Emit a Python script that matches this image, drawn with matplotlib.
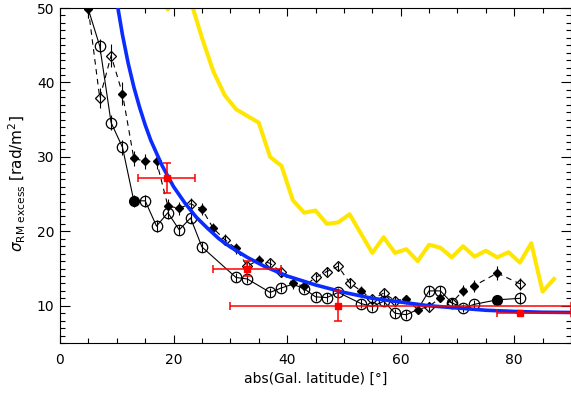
import matplotlib
matplotlib.use("Agg")
import matplotlib.pyplot as plt
from matplotlib.ticker import MultipleLocator

# circles, solid line (marker: 0 open, 1 filled, 2 hidden under a diamond)
lat_c = [5, 7, 9, 11, 13, 15, 17, 19, 21, 23, 25, 31, 33, 37, 39, 41, 43, 45, 47, 49,
         53, 55, 57, 59, 61, 63, 65, 67, 69, 71, 73, 77, 81]
rm_c = [49.8, 44.9, 34.6, 31.3, 24.1, 24.1, 20.7, 22.5, 20.2, 21.8, 17.9, 13.8, 13.6, 11.8,
        12.4, 12.9, 12.3, 11.2, 11.1, 11.8, 10.3, 9.9, 10.6, 9.0, 8.8, 9.5, 12.0, 12.0,
        10.4, 9.7, 10.2, 10.8, 11.0]
err_c = [1.2, 1.0, 1.0, 1.0, 0.8, 0.8, 0.8, 0.8, 0.7, 0.7, 0.7, 0.6, 0.6, 0.6, 0.6, 0.6,
         0.6, 0.6, 0.6, 0.6, 0.6, 0.6, 0.6, 0.6, 0.6, 0.6, 0.6, 0.6, 0.6, 0.6, 0.6, 0.7, 0.8]
mark_c = [2, 0, 0, 0, 1, 0, 0, 0, 0, 0, 0, 0, 0, 0, 0, 2, 0, 0, 0, 0, 0, 0, 0, 0, 0, 2,
          0, 0, 0, 0, 0, 1, 0]

# diamonds, dashed line (0 open, 1 filled)
lat_d = [5, 7, 9, 11, 13, 15, 17, 19, 21, 23, 25, 27, 29, 31, 33, 35, 37, 39, 41, 43, 45,
         47, 49, 51, 53, 55, 57, 59, 61, 63, 65, 67, 69, 71, 73, 77, 81]
rm_d = [49.8, 37.9, 43.6, 38.5, 29.8, 29.4, 29.4, 23.4, 23.1, 23.7, 23.0, 20.4, 18.9, 17.7,
        15.3, 16.2, 15.7, 14.5, 13.05, 12.6, 13.8, 14.6, 15.3, 13.1, 12.0, 10.9, 11.7,
        10.7, 10.9, 9.5, 9.9, 11.1, 10.4, 12.05, 12.7, 14.4, 12.95]
err_d = [1.2, 1.3, 1.5, 1.5, 1.0, 1.0, 1.0, 0.9, 0.9, 0.8, 0.8, 0.7, 0.7, 0.7, 0.7, 0.6,
         0.6, 0.6, 0.6, 0.6, 0.6, 0.6, 0.6, 0.6, 0.6, 0.6, 0.6, 0.6, 0.6, 0.6, 0.6, 0.6,
         0.6, 0.7, 0.8, 0.9, 0.8]
fill_d = [1, 0, 0, 1, 1, 1, 1, 1, 1, 0, 1, 1, 0, 1, 0, 1, 0, 0, 1, 1, 0, 0, 0, 0, 1, 0,
          0, 0, 1, 1, 0, 1, 0, 1, 1, 1, 0]

# yellow curve
lat_y = [17, 19, 21, 23, 25, 27, 29, 31, 35, 37, 39, 41, 43, 45, 47, 49, 51, 53, 55, 57,
         59, 61, 63, 65, 67, 69, 71, 73, 75, 77, 79, 81, 83, 85, 87]
rm_y = [56.0, 49.8, 53.0, 51.0, 46.0, 41.5, 38.3, 36.4, 34.6, 30.0, 28.8, 24.2, 22.5, 22.8,
        21.0, 21.2, 22.3, 19.7, 17.1, 19.2, 17.1, 17.6, 16.0, 18.2, 17.8, 16.5, 18.0, 16.6,
        17.4, 16.5, 17.2, 15.8, 18.4, 11.9, 13.6]

# blue model curve
lat_b = [10.2, 11, 12, 13, 14, 15, 16, 18, 20, 22, 24, 26, 28, 30, 33, 36, 40, 45, 50, 55,
         60, 65, 70, 75, 80, 85, 90]
rm_b = [50.0, 46.4, 42.6, 39.4, 36.7, 34.3, 32.2, 28.8, 26.0, 23.8, 21.9, 20.4, 19.0, 17.9,
        16.5, 15.3, 14.0, 12.8, 11.8, 11.0, 10.5, 10.0, 9.7, 9.4, 9.24, 9.13, 9.1]

# red points
lat_r = [18.8, 33.0, 49.0, 81.0]
rm_r = [27.2, 15.0, 10.0, 9.0]
xlo_r = [5.0, 6.0, 19.0, 4.0]
xhi_r = [5.0, 6.0, 41.0, 9.0]
yerr_r = [2.0, 1.0, 2.0, 0.0]

fig = plt.figure(figsize=(5.71, 3.98), dpi=100)
ax = fig.add_axes([60 / 571, 55 / 398, 511 / 571, 335 / 398])

ax.plot(lat_y, rm_y, color='#ffe600', lw=2.9, zorder=1)

ax.errorbar(lat_c, rm_c, yerr=err_c, fmt='none', ecolor='k', elinewidth=0.8, zorder=2)
ax.plot(lat_c, rm_c, '-', color='k', lw=0.8, zorder=2)
ax.plot([x for x, m in zip(lat_c, mark_c) if m == 0], [y for y, m in zip(rm_c, mark_c) if m == 0],
        'o', ms=7.5, mfc='none', mec='k', mew=0.9, zorder=3)
ax.plot([x for x, m in zip(lat_c, mark_c) if m == 1], [y for y, m in zip(rm_c, mark_c) if m == 1],
        'o', ms=7, color='k', zorder=3)

ax.errorbar(lat_d, rm_d, yerr=err_d, fmt='none', ecolor='k', elinewidth=0.8, zorder=2)
ax.plot(lat_d, rm_d, '--', color='k', lw=0.8, dashes=(5, 4), zorder=2)
ax.plot([x for x, f in zip(lat_d, fill_d) if not f], [y for y, f in zip(rm_d, fill_d) if not f],
        'D', ms=5, mfc='none', mec='k', mew=0.9, zorder=3)
ax.plot([x for x, f in zip(lat_d, fill_d) if f], [y for y, f in zip(rm_d, fill_d) if f],
        'D', ms=4, color='k', zorder=3)

ax.plot(lat_b, rm_b, color='#0a2cff', lw=2.6, zorder=4)

ax.errorbar(lat_r, rm_r, xerr=[xlo_r, xhi_r], yerr=yerr_r, fmt='s', color='#ff0000',
            ms=5, elinewidth=1.1, capsize=3, capthick=1.1, zorder=5)

ax.set_xlim(0, 90)
ax.set_ylim(5, 50)
ax.xaxis.set_major_locator(MultipleLocator(20))
ax.xaxis.set_minor_locator(MultipleLocator(5))
ax.yaxis.set_major_locator(MultipleLocator(10))
ax.yaxis.set_minor_locator(MultipleLocator(1))
ax.tick_params(which='both', direction='in', top=True, right=True, labelsize=10, width=0.8)
ax.tick_params(axis='x', which='major', length=6, pad=7)
ax.tick_params(axis='y', which='major', length=7, pad=4)
ax.tick_params(which='minor', length=3.5)
for s in ax.spines.values():
    s.set_linewidth(0.8)

ax.set_xlabel('abs(Gal. latitude) [°]', fontsize=10, labelpad=4)
ax.set_ylabel(r'$\sigma_{\rm RM\ excess}$ [rad/m$^2$]', fontsize=11)
ax.yaxis.set_label_coords(-0.062, 0.475)

fig.savefig('out.png', dpi=100)
